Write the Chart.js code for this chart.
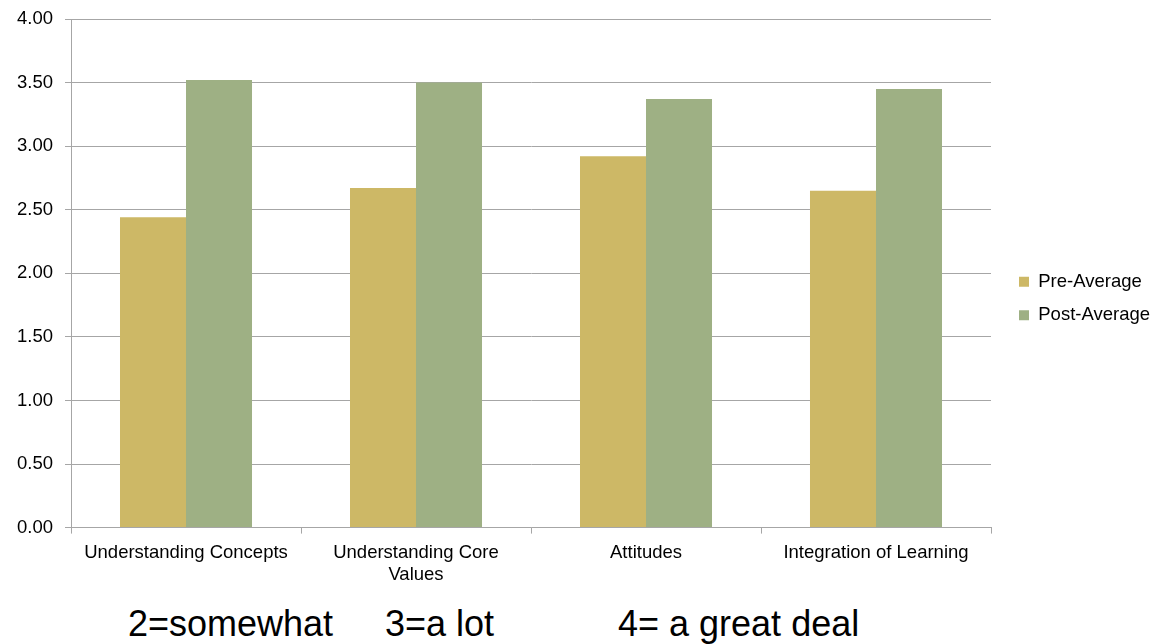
<!DOCTYPE html>
<html>
<head>
<meta charset="utf-8">
<script src="https://cdn.jsdelivr.net/npm/chart.js@4.4.1/dist/chart.umd.min.js"></script>
<style>
  html, body { margin: 0; padding: 0; background: #fff; }
  body { width: 1163px; height: 644px; position: relative; overflow: hidden; font-family: 'Liberation Sans', Arial, sans-serif; }
  #wrap { position: absolute; left: 0; top: 0; width: 1163px; height: 594px; }
  .note { position: absolute; font-size: 36px; line-height: 36px; color: #000; white-space: nowrap; top: 606px; }
</style>
</head>
<body>
<div id="wrap"><canvas id="c"></canvas></div>
<div class="note" style="left:128px">2=somewhat</div>
<div class="note" style="left:385px">3=a lot</div>
<div class="note" style="left:618px">4= a great deal</div>
<script>
const categories = ['Understanding Concepts', ['Understanding Core', 'Values'], 'Attitudes', 'Integration of Learning'];
const preAverage = [2.44, 2.67, 2.92, 2.65];
const postAverage = [3.52, 3.50, 3.37, 3.45];
const yTicks = [0, 0.5, 1, 1.5, 2, 2.5, 3, 3.5, 4];

const FONT = "'Liberation Sans', Arial, sans-serif";
const GRID = '#a6a6a6';
const LEGEND_SHIFT_X = 13;
const LEGEND_SHIFT_Y = -8;

const legendGap = {
  id: 'legendGap',
  beforeLayout(chart) {
    const lg = chart.legend;
    if (lg && !lg._gapPatched) {
      const origFit = lg.fit.bind(lg);
      lg.fit = function () { origFit(); this.width += LEGEND_SHIFT_X; };
      lg._gapPatched = true;
    }
  },
  afterLayout(chart) {
    const lg = chart.legend;
    if (lg) {
      lg.left += LEGEND_SHIFT_X;
      lg.top += LEGEND_SHIFT_Y;
      lg.bottom += LEGEND_SHIFT_Y;
    }
  }
};

new Chart(document.getElementById('c'), {
  type: 'bar',
  data: {
    labels: categories,
    datasets: [
      { label: 'Pre-Average', data: preAverage, backgroundColor: '#cdb866', borderWidth: 0 },
      { label: 'Post-Average', data: postAverage, backgroundColor: '#9eb084', borderWidth: 0 }
    ]
  },
  plugins: [legendGap],
  options: {
    responsive: true,
    maintainAspectRatio: false,
    animation: false,
    layout: { padding: { left: 5, top: 19, right: 3, bottom: 0 } },
    datasets: { bar: { categoryPercentage: 0.574, barPercentage: 1.0 } },
    plugins: {
      tooltip: { enabled: false },
      legend: {
        position: 'right',
        align: 'center',
        labels: {
          font: { family: FONT, size: 18.5 },
          color: '#000',
          boxWidth: 10,
          boxHeight: 10,
          padding: 15
        }
      }
    },
    scales: {
      x: {
        grid: { display: true, drawOnChartArea: false, drawTicks: true, tickLength: 6, color: GRID, offset: true },
        border: { display: true, color: GRID, width: 1 },
        ticks: { font: { family: FONT, size: 18.5 }, color: '#000', maxRotation: 0, autoSkip: false, padding: 8 }
      },
      y: {
        min: 0,
        max: 4,
        afterBuildTicks: (axis) => { axis.ticks = yTicks.map(v => ({ value: v })); },
        afterFit: (axis) => { axis.paddingTop = 0; },
        grid: { color: GRID, lineWidth: 1, drawTicks: true, tickLength: 6 },
        border: { display: true, color: GRID, width: 1 },
        ticks: { font: { family: FONT, size: 18.5 }, color: '#000', padding: 12, callback: (v) => Number(v).toFixed(2) }
      }
    }
  }
});
</script>
</body>
</html>
